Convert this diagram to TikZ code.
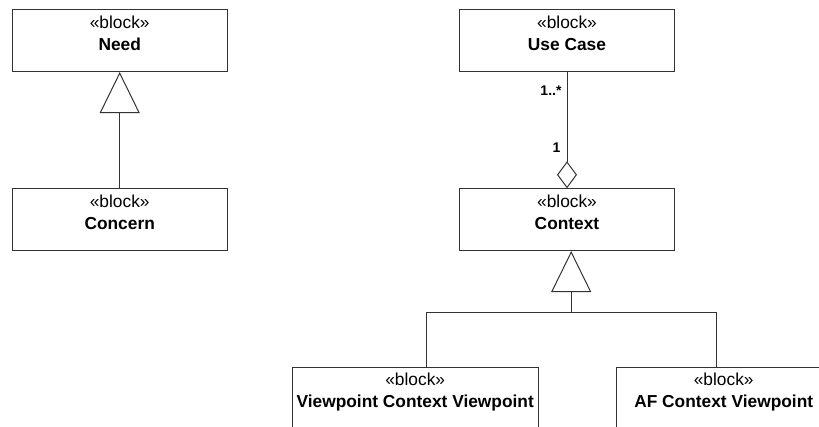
\documentclass[tikz,border=0pt]{standalone}
\usepackage{fontspec}
\setmainfont{Liberation Sans}
\usetikzlibrary{arrows.meta}
\usetikzlibrary{calc}

\tikzset{
  blk/.style={draw=black!80, line width=0.75pt, anchor=north west, inner sep=0pt, minimum width=161.25pt, minimum height=46.3pt},
  blktxt/.style={anchor=north, inner sep=0pt, align=center, font=\fontsize{13}{16.5}\selectfont},
  mult/.style={inner sep=0pt, font=\fontsize{10.5}{12}\selectfont\bfseries},
  conn/.style={draw=black!80, line width=0.75pt},
  gen/.style={conn, -{Triangle[open, length=30.75pt, width=30pt]}},
  aggr/.style={conn, -{Diamond[open, length=20.25pt, width=15pt]}}
}

\begin{document}
\begin{tikzpicture}[x=0.75pt,y=0.75pt,yscale=-1,xscale=1]
\useasboundingbox (0,0) rectangle (819,427);

%Shape: Rectangle [Need]
\node[blk] (need) at (11.7,9.3) {};
%Shape: Rectangle [Concern]
\node[blk] (concern) at (11.7,188.3) {};
%Shape: Rectangle [Use Case]
\node[blk] (usecase) at (459,9.3) {};
%Shape: Rectangle [Context]
\node[blk] (context) at (459,188.3) {};
%Shape: Rectangle [Viewpoint Context Viewpoint]
\node[blk, minimum width=184.5pt] (vp) at (291.7,366.7) {};
%Shape: Rectangle [AF Context Viewpoint]
\node[blk] (af) at (615.7,366.7) {};

% Text Node
\node[blktxt] (needtxt) at ([yshift=4.5pt]need.north) {«block»\\\textbf{Need}};
% Text Node
\node[blktxt] (concerntxt) at ([yshift=4.5pt]concern.north) {«block»\\\textbf{Concern}};
% Text Node
\node[blktxt] (usecasetxt) at ([yshift=4.5pt]usecase.north) {«block»\\\textbf{Use Case}};
% Text Node
\node[blktxt] (contexttxt) at ([yshift=4.5pt]context.north) {«block»\\\textbf{Context}};
% Text Node
\node[blktxt] (vptxt) at ([yshift=4.5pt]vp.north) {«block»\\\textbf{Viewpoint Context Viewpoint}};
% Text Node
\node[blktxt] (aftxt) at ([yshift=4.5pt]af.north) {«block»\\\textbf{AF Context Viewpoint}};

%Straight Lines [generalization]
\draw[gen] (concern.north) -- (need.south);
%Straight Lines [aggregation]
\draw[aggr] (usecase.south) -- (context.north)
  node[mult, pos=0.16, anchor=east, xshift=-3.75pt] (mtop) {1..*}
  node[mult, pos=0.65, anchor=east, xshift=-4.5pt] (mbot) {1};
%Straight Lines [generalization set]
\coordinate (fork) at ($(context.south)+(4.2,61)$);
\draw[gen] (fork) -- (fork |- context.south);
\draw[conn] (fork) -| ([xshift=8.25pt]vp.north);
\draw[conn] (fork) -| ([xshift=-5.5pt]af.north);

\end{tikzpicture}
\end{document}
